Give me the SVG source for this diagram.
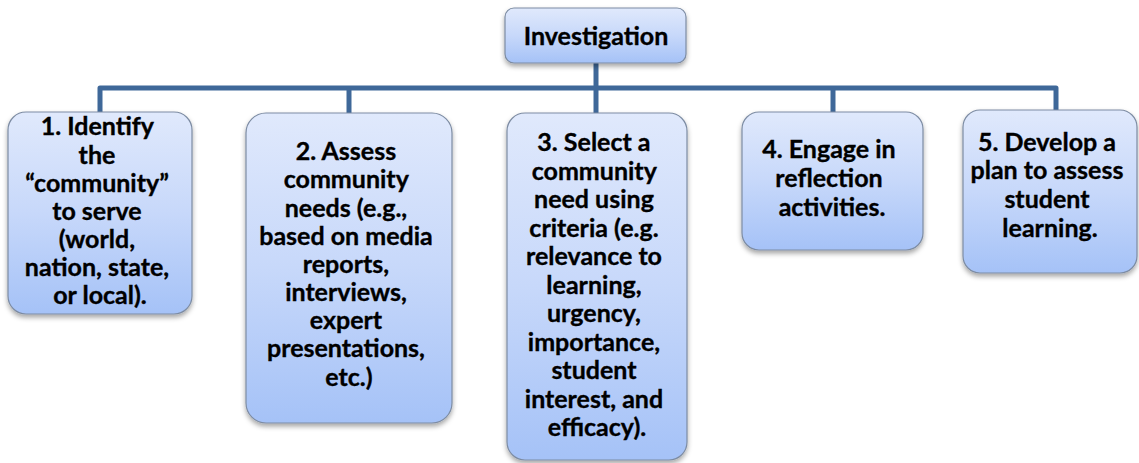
<svg xmlns="http://www.w3.org/2000/svg" width="1139" height="463" viewBox="0 0 1139 463">
  <style>
    .box { fill: url(#grad); stroke: #7d8ca3; stroke-width: 1.2; filter: url(#shadow); }
    .lbl { font-family: "Lato", "Open Sans", sans-serif; font-weight: bold; font-size: 25px; fill: #000; stroke: #000; stroke-width: 0.35; text-anchor: middle; }
    .conn { fill: none; stroke: #3f6899; stroke-width: 5; stroke-linejoin: round; }
  </style>
  <defs>
    <linearGradient id="grad" x1="0" y1="0" x2="0" y2="1">
      <stop offset="0" stop-color="#e0e9fc"/>
      <stop offset="0.5" stop-color="#c7d8fa"/>
      <stop offset="1" stop-color="#a5c2f7"/>
    </linearGradient>
    <filter id="shadow" x="-10%" y="-10%" width="120%" height="125%">
      <feDropShadow dx="0" dy="3" stdDeviation="2.5" flood-color="#000" flood-opacity="0.35"/>
    </filter>
  </defs>
  <rect width="1139" height="463" fill="#ffffff"/>

  <g id="connectors">
    <path class="conn" d="M596,63 V113"/>
    <path class="conn" d="M100,112 V88 H1056 V111"/>
    <path class="conn" d="M349,88 V113"/>
    <path class="conn" d="M833,88 V112"/>
  </g>

  <g id="investigation">
    <rect class="box" x="505" y="8" width="181" height="55" rx="9"/>
    <text class="lbl" x="596" y="45">Investigation</text>
  </g>

  <g id="step1">
    <rect class="box" x="8" y="112" width="184" height="202" rx="18"/>
    <text class="lbl">
      <tspan x="100" y="135">1. Identify</tspan>
      <tspan x="100" y="163.5">the</tspan>
      <tspan x="100" y="192">“community”</tspan>
      <tspan x="100" y="220">to serve</tspan>
      <tspan x="100" y="248">(world,</tspan>
      <tspan x="100" y="276">nation, state,</tspan>
      <tspan x="100" y="304">or local).</tspan>
    </text>
  </g>

  <g id="step2">
    <rect class="box" x="246" y="113" width="206" height="310" rx="20"/>
    <text class="lbl">
      <tspan x="349" y="160">2. Assess</tspan>
      <tspan x="349" y="188">community</tspan>
      <tspan x="349" y="216.5">needs (e.g.,</tspan>
      <tspan x="349" y="245">based on media</tspan>
      <tspan x="349" y="273">reports,</tspan>
      <tspan x="349" y="301">interviews,</tspan>
      <tspan x="349" y="329">expert</tspan>
      <tspan x="349" y="357">presentations,</tspan>
      <tspan x="349" y="385.5">etc.)</tspan>
    </text>
  </g>

  <g id="step3">
    <rect class="box" x="507" y="113" width="180" height="347" rx="18"/>
    <text class="lbl">
      <tspan x="597" y="151">3. Select a</tspan>
      <tspan x="597" y="179.5">community</tspan>
      <tspan x="597" y="208">need using</tspan>
      <tspan x="597" y="236.5">criteria (e.g.</tspan>
      <tspan x="597" y="265">relevance to</tspan>
      <tspan x="597" y="293.5">learning,</tspan>
      <tspan x="597" y="322">urgency,</tspan>
      <tspan x="597" y="350.5">importance,</tspan>
      <tspan x="597" y="379">student</tspan>
      <tspan x="597" y="407.5">interest, and</tspan>
      <tspan x="597" y="436">efficacy).</tspan>
    </text>
  </g>

  <g id="step4">
    <rect class="box" x="742" y="112" width="181" height="138" rx="17"/>
    <text class="lbl">
      <tspan x="832" y="158">4. Engage in</tspan>
      <tspan x="832" y="187">reflection</tspan>
      <tspan x="832" y="215.5">activities.</tspan>
    </text>
  </g>

  <g id="step5">
    <rect class="box" x="963" y="110" width="174" height="163" rx="17"/>
    <text class="lbl">
      <tspan x="1050" y="151">5. Develop a</tspan>
      <tspan x="1050" y="179">plan to assess</tspan>
      <tspan x="1050" y="208">student</tspan>
      <tspan x="1050" y="236.5">learning.</tspan>
    </text>
  </g>
</svg>
